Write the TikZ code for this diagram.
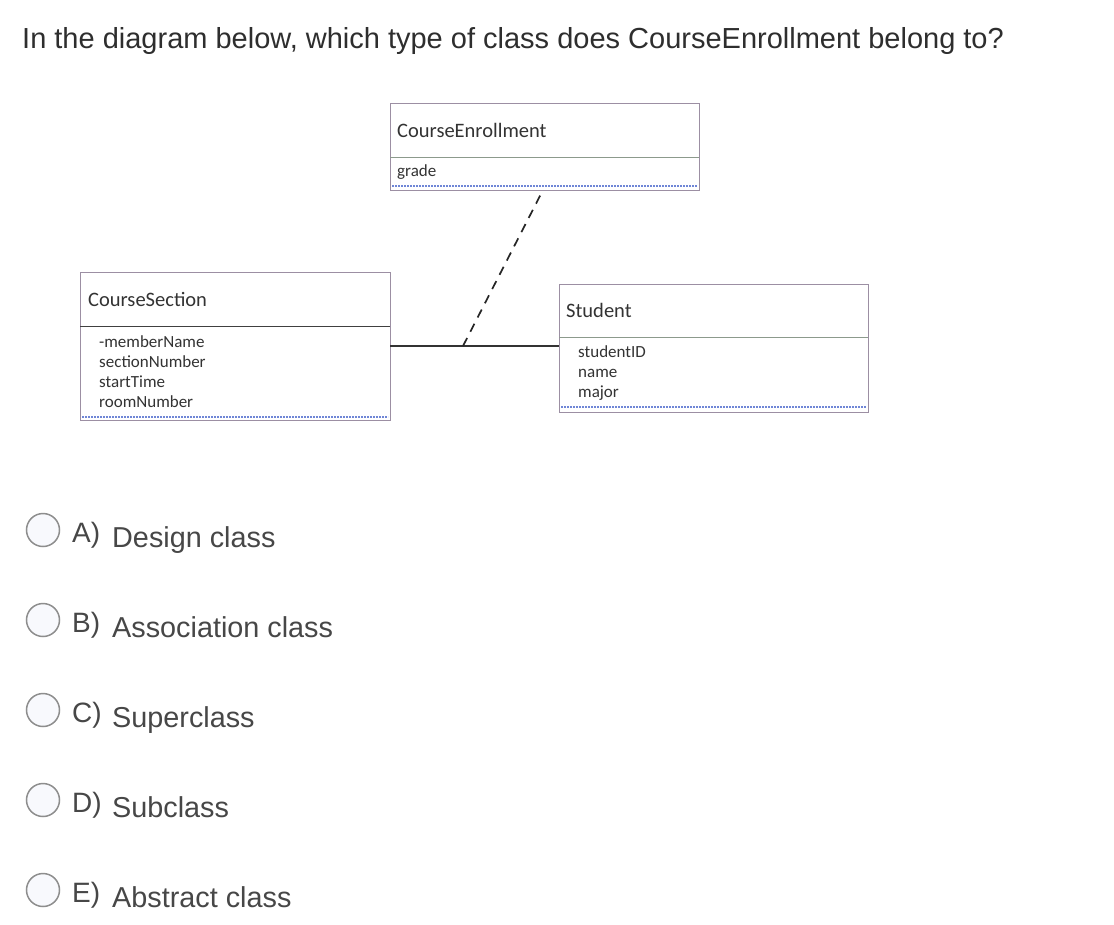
\documentclass[tikz,border=0pt]{standalone}
\usepackage{fontspec}
\setmainfont{Liberation Sans}
\newfontfamily\umlfont{Carlito}
\definecolor{qtext}{HTML}{2E2E2E}
\definecolor{otext}{HTML}{474747}
\definecolor{umltext}{HTML}{333333}
\definecolor{boxline}{HTML}{9C8FA3}
\definecolor{divline}{HTML}{8C9A8C}
\definecolor{dotblue}{HTML}{6F86D6}
\definecolor{radio}{HTML}{8E8E8E}
\definecolor{radiofill}{HTML}{F8F9FD}
\tikzset{
  umlbox/.style={draw=boxline, line width=0.9pt},
  divider/.style={draw=divline, line width=0.9pt},
  darkdiv/.style={draw=black!75, line width=1pt},
  dotsep/.style={draw=dotblue, line width=1.3pt, dash pattern=on 2pt off 1pt},
  umltitle/.style={anchor=base west, inner sep=0pt, text=umltext, font=\umlfont\fontsize{20.5}{22}\selectfont},
  umlattr/.style={anchor=base west, inner sep=0pt, text=umltext, font=\umlfont\fontsize{17}{19}\selectfont, align=left},
  question/.style={anchor=base west, inner sep=0pt, text=qtext, font=\fontsize{29}{32}\selectfont},
  optletter/.style={anchor=base west, inner sep=0pt, text=otext, font=\fontsize{28}{30}\selectfont},
  opttext/.style={anchor=base west, inner sep=0pt, text=otext, font=\fontsize{28.8}{32}\selectfont},
  radiobtn/.style={circle, draw=radio, fill=radiofill, line width=1.5pt, minimum size=33pt, inner sep=0pt},
  assoc/.style={draw=black!80, line width=1.2pt},
  assocdash/.style={draw=black!85, line width=1.7pt, dash pattern=on 9pt off 7pt},
}
\begin{document}
\begin{tikzpicture}[x=1pt,y=-1pt]
\useasboundingbox (0,0) rectangle (1114,924);
\fill[white] (0,0) rectangle (1114,924);

% question
\node[question] (q) at (22,48) {In the diagram below, which type of class does CourseEnrollment belong to?};

% CourseEnrollment
\draw[umlbox] (390,103) rectangle (699,190);
\node (ce) at (544.5,146.5) [minimum width=309pt, minimum height=87pt, inner sep=0pt] {};
\draw[divider] (390,157) -- (699,157);
\node[umltitle] (cet) at (397,137) {CourseEnrollment};
\node[umlattr] (cea) at (397,176) {grade};
\draw[dotsep] (392,186) -- (697,186);

% CourseSection
\draw[umlbox] (80,272) rectangle (390,420);
\node (cs) at (235,346) [minimum width=310pt, minimum height=148pt, inner sep=0pt] {};
\draw[darkdiv] (80,326) -- (390,326);
\node[umltitle] (cst) at (88,306) {CourseSection};
\node[umlattr] (csa1) at (99,347) {-memberName};
\node[umlattr] (csa2) at (99,367) {sectionNumber};
\node[umlattr] (csa3) at (99,387) {startTime};
\node[umlattr] (csa4) at (99,407) {roomNumber};
\draw[dotsep] (82,417) -- (388,417);

% Student
\draw[umlbox] (559,284) rectangle (868,412);
\node (st) at (713.5,346) [minimum width=309pt, minimum height=128pt, inner sep=0pt] {};
\draw[divider] (559,337) -- (868,337);
\node[umltitle] (stt) at (566,317) {Student};
\node[umlattr] (sta1) at (578,357) {studentID};
\node[umlattr] (sta2) at (578,377) {name};
\node[umlattr] (sta3) at (578,397) {major};
\draw[dotsep] (561,407) -- (866,407);

% association
\draw[assoc] (cs.east) -- (st.west);
\coordinate (ac) at (463,346);
\coordinate (ceb) at (543,190);
\draw[assocdash] (ac) -- (ceb);

% options
\foreach \y/\l/\t/\n in {530/A)/Design class/a, 620/B)/Association class/b, 710/C)/Superclass/c, 800/D)/Subclass/d, 890/E)/Abstract class/e}{
  \node[radiobtn] (r\n) at (43,\y) {};
  \node[optletter] (l\n) at (72,\y+12) {\l};
  \node[opttext] (t\n) at (112,\y+17) {\t};
}
\end{tikzpicture}
\end{document}
